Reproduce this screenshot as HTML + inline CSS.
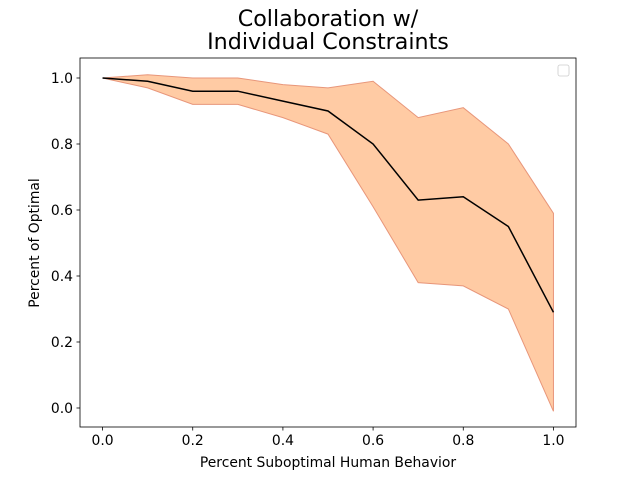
<!DOCTYPE html>
<html><head><meta charset="utf-8"><style>
body{margin:0;background:#fff}
svg{font-family:"DejaVu Sans","Liberation Sans",sans-serif}
</style></head><body>
<svg id="chart" width="640" height="480">
<g id="plot"></g>
</svg>
<script>
const xs=[0,0.1,0.2,0.3,0.4,0.5,0.6,0.7,0.8,0.9,1.0];
const meanVals=[1.0,0.99,0.96,0.96,0.93,0.90,0.80,0.63,0.64,0.55,0.29];
const upperVals=[1.0,1.01,1.0,1.0,0.98,0.97,0.99,0.88,0.91,0.80,0.59];
const lowerVals=[1.0,0.97,0.92,0.92,0.88,0.83,0.61,0.38,0.37,0.30,-0.01];
const xTicks=["0.0","0.2","0.4","0.6","0.8","1.0"];
const yTicks=["0.0","0.2","0.4","0.6","0.8","1.0"];
const L=80,R=576,T=58,B=427,x0=-0.05,x1=1.05,y0=-0.0576,y1=1.0606;
const sx=v=>L+(v-x0)/(x1-x0)*(R-L), sy=v=>B-(v-y0)/(y1-y0)*(B-T);
const g=document.getElementById('plot');const NS="http://www.w3.org/2000/svg";
function mk(t,a,name,txt){const e=document.createElementNS(NS,t);for(const k in a)e.setAttribute(k,a[k]);


if(txt!==undefined)e.textContent=txt;g.appendChild(e);return e;}
let d=xs.map((x,i)=>(i?'L':'M')+sx(x)+','+sy(upperVals[i])).join('');
for(let i=xs.length-1;i>=0;i--)d+='L'+sx(xs[i])+','+sy(lowerVals[i]);
mk('path',{d:d+'Z',fill:'#ffcba4',stroke:'#e8967a','stroke-width':1},'confidence-band');
mk('path',{d:xs.map((x,i)=>(i?'L':'M')+sx(x)+','+sy(meanVals[i])).join(''),fill:'none',stroke:'#000','stroke-width':1.5},'mean-line');
mk('rect',{x:L,y:T,width:R-L,height:B-T,fill:'none',stroke:'#000','stroke-width':0.8},'axes-frame');
xTicks.forEach(t=>{const x=sx(+t);mk('line',{x1:x,x2:x,y1:B,y2:B+3.5,stroke:'#000','stroke-width':0.8},'x-tick');
mk('text',{x:x,y:B+18,'text-anchor':'middle','font-size':13.9},'x-tick-label',t);});
yTicks.forEach(t=>{const y=sy(+t);mk('line',{x1:L,x2:L-3.5,y1:y,y2:y,stroke:'#000','stroke-width':0.8},'y-tick');
mk('text',{x:L-7,y:y+5,'text-anchor':'end','font-size':13.9},'y-tick-label',t);});
mk('text',{x:328,y:467,'text-anchor':'middle','font-size':13.9},'x-axis-title','Percent Suboptimal Human Behavior');
mk('text',{x:0,y:0,'text-anchor':'middle','font-size':13.9,transform:'translate(39,243) rotate(-90)'},'y-axis-title','Percent of Optimal');
mk('text',{x:328,y:26,'text-anchor':'middle','font-size':22.2},'chart-title','Collaboration w/');
mk('text',{x:328,y:49,'text-anchor':'middle','font-size':22.2},'chart-title-line2','Individual Constraints');
mk('rect',{x:558,y:65,width:11,height:11,rx:2,fill:'#fff',stroke:'#ccc','stroke-width':0.8},'legend-box');
</script>
</body></html>
